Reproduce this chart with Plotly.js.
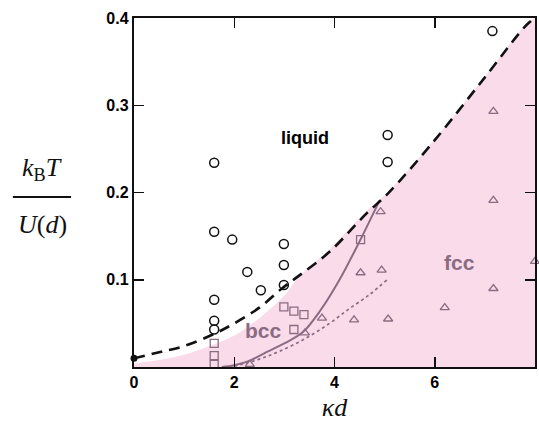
<!DOCTYPE html>
<html>
<head>
<meta charset="utf-8">
<script src="https://cdn.plot.ly/plotly-3.0.1.min.js"></script>
<style>html,body{margin:0;padding:0;background:#fff;}#chart{width:539px;height:422px;}</style>
</head>
<body>
<div id="chart"></div>
<script>
// Phase boundary (dashed, melting line)
const meltX = [0, 0.5, 1.0, 1.6, 2.0, 2.5, 2.95, 3.3, 3.9, 4.64, 5.07, 6.0, 7.0, 7.83, 8.0];
const meltY = [0.010, 0.017, 0.024, 0.038, 0.050, 0.068, 0.090, 0.105, 0.132, 0.176, 0.199, 0.260, 0.332, 0.392, 0.400];
// Shaded solid region upper edge
const solidX = [0, 0.5, 1.0, 1.6, 2.0, 2.5, 3.0, 3.3, 3.9, 4.64, 5.07, 6.0, 7.0, 7.83, 8.0];
const solidY = [0.004, 0.008, 0.014, 0.026, 0.036, 0.056, 0.082, 0.104, 0.135, 0.179, 0.201, 0.261, 0.333, 0.393, 0.400];
// bcc-fcc boundary (solid)
const bccFccX = [1.75, 2.0, 2.3, 2.64, 3.0, 3.37, 3.72, 4.1, 4.5, 4.9];
const bccFccY = [0.000, 0.002, 0.007, 0.017, 0.027, 0.040, 0.065, 0.100, 0.144, 0.191];
// dotted boundary
const dotX = [2.0, 2.5, 2.9, 3.4, 3.9, 4.3, 4.7, 5.05];
const dotY = [0.001, 0.009, 0.018, 0.032, 0.050, 0.067, 0.083, 0.100];
// liquid points (circles)
const liqX = [1.6, 1.6, 1.6, 1.6, 1.6, 1.96, 2.26, 2.53, 2.99, 2.99, 2.99, 5.06, 5.06, 7.15];
const liqY = [0.234, 0.155, 0.077, 0.053, 0.043, 0.146, 0.109, 0.088, 0.141, 0.117, 0.094, 0.266, 0.235, 0.385];
// bcc points (squares)
const bccX = [1.6, 1.6, 1.6, 2.99, 3.19, 3.39, 3.19, 4.52];
const bccY = [0.027, 0.013, 0.003, 0.069, 0.064, 0.060, 0.043, 0.146];
// fcc points (triangles)
const fccX = [2.31, 3.41, 3.75, 4.39, 4.52, 4.94, 4.92, 5.07, 6.2, 7.17, 7.17, 7.17, 8.0];
const fccY = [0.003, 0.039, 0.056, 0.054, 0.108, 0.111, 0.178, 0.055, 0.068, 0.090, 0.191, 0.293, 0.121];
// point on the axis
const originX = [0];
const originY = [0.010];
const xTicks = [0, 2, 4, 6, 8];
const xTickText = ['0', '2', '4', '6', '8'];
const yTicks = [0.1, 0.2, 0.3, 0.4];
const yTickText = ['0.1', '0.2', '0.3', '0.4'];

const mauve = '#8a6c82';
const pink = '#fadbea';
const sans = 'Liberation Sans, Arial, sans-serif';
const serif = 'Liberation Serif, serif';

const traces = [
  {x: solidX, y: solidY, mode: 'lines', fill: 'tozeroy', fillcolor: pink, line: {width: 0, color: pink, shape: 'spline'}, hoverinfo: 'skip'},
  {x: dotX, y: dotY, mode: 'lines', line: {color: mauve, width: 1.7, dash: 'dot', shape: 'spline'}},
  {x: bccFccX, y: bccFccY, mode: 'lines', line: {color: mauve, width: 2, shape: 'spline'}},
  {x: meltX, y: meltY, mode: 'lines', line: {color: '#111', width: 2.6, dash: '11px,7px', shape: 'spline'}},
  {x: liqX, y: liqY, mode: 'markers', cliponaxis: false, marker: {symbol: 'circle-open', size: 9, color: '#111', line: {width: 1.5, color: '#111'}}},
  {x: bccX, y: bccY, mode: 'markers', cliponaxis: false, marker: {symbol: 'square-open', size: 8, color: mauve, line: {width: 1.3, color: mauve}}},
  {x: fccX, y: fccY, mode: 'markers', cliponaxis: false, marker: {symbol: 'triangle-up-open', size: 8, color: mauve, line: {width: 1.3, color: mauve}}},
  {x: originX, y: originY, mode: 'markers', cliponaxis: false, marker: {symbol: 'circle', size: 7, color: '#111'}}
];

const tickFont = {family: sans, size: 16, color: '#000', weight: 'bold'};

const layout = {
  width: 539, height: 422,
  margin: {l: 134, r: 4, t: 18, b: 55},
  paper_bgcolor: '#fff', plot_bgcolor: '#fff',
  showlegend: false,
  xaxis: {
    range: [0, 8], tickvals: xTicks, ticktext: xTickText,
    ticks: 'inside', ticklen: 10, tickwidth: 1.5, tickcolor: '#111',
    showline: true, linewidth: 2.2, linecolor: '#111', mirror: 'ticks',
    showgrid: false, zeroline: false, tickfont: tickFont,
    title: {text: '<i>κd</i>', font: {family: serif, size: 26, color: '#111'}, standoff: 12}
  },
  yaxis: {
    range: [0, 0.4], tickvals: yTicks, ticktext: yTickText,
    ticks: 'inside', ticklen: 10, tickwidth: 1.5, tickcolor: '#111',
    showline: true, linewidth: 2.2, linecolor: '#111', mirror: 'ticks',
    showgrid: false, zeroline: false, tickfont: tickFont
  },
  annotations: [
    {text: 'liquid', x: 3.41, y: 0.262, xref: 'x', yref: 'y', showarrow: false, font: {family: sans, size: 18, color: '#000', weight: 'bold'}},
    {text: 'bcc', x: 2.58, y: 0.042, xref: 'x', yref: 'y', showarrow: false, font: {family: sans, size: 21, color: mauve, weight: 'bold'}},
    {text: 'fcc', x: 6.5, y: 0.12, xref: 'x', yref: 'y', showarrow: false, font: {family: sans, size: 21, color: mauve, weight: 'bold'}},
    {text: '<i>k</i><sub>B</sub><i>T</i>', x: 0, y: 0.566, xref: 'paper', yref: 'paper', xanchor: 'center', xshift: -92, showarrow: false, font: {family: serif, size: 26, color: '#111'}},
    {text: '<i>U</i>(<i>d</i>)', x: 0, y: 0.408, xref: 'paper', yref: 'paper', xanchor: 'center', xshift: -92, showarrow: false, font: {family: serif, size: 26, color: '#111'}}
  ],
  shapes: [
    {type: 'line', xref: 'paper', yref: 'paper', x0: -0.302, x1: -0.157, y0: 0.487, y1: 0.487, line: {color: '#111', width: 2}}
  ]
};

Plotly.newPlot('chart', traces, layout, {displayModeBar: false, staticPlot: true});
</script>
</body>
</html>
